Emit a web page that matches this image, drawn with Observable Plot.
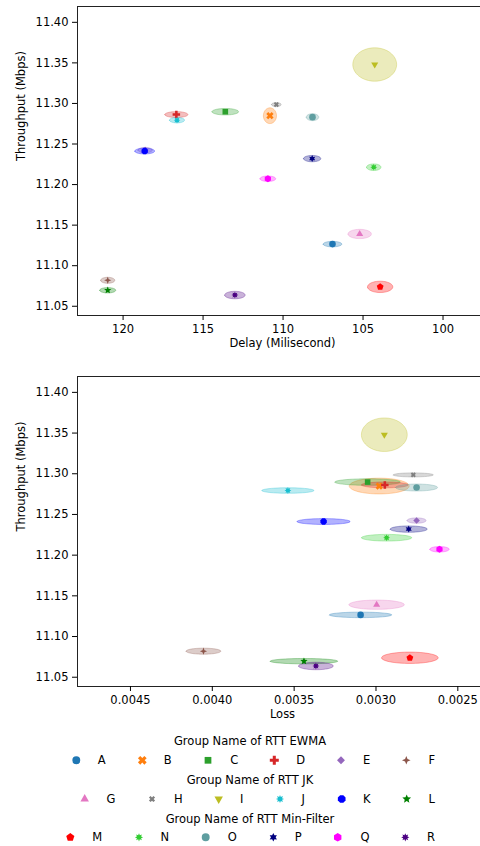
<!DOCTYPE html>
<html>
<head>
<meta charset="utf-8">
<script src="https://cdn.jsdelivr.net/npm/d3@7"></script>
<script src="https://cdn.jsdelivr.net/npm/@observablehq/plot@0.6"></script>
<style>
  html, body { margin: 0; padding: 0; background: #fff; overflow: hidden; }
  body { font-family: "DejaVu Sans", sans-serif; }
  #wrap { position: relative; width: 480px; height: 846px; overflow: hidden; background: #fff; }
  #wrap > div, #wrap > svg { position: absolute; left: 0; }
</style>
</head>
<body>
<div id="wrap"></div>
<script>
// ---------------- DATA ----------------
const groups = ["A","B","C","D","E","F","G","H","I","J","K","L","M","N","O","P","Q","R"];
const colors = ["#1f77b4","#ff7f0e","#2ca02c","#d62728","#9467bd","#8c564b",
                "#e377c2","#7f7f7f","#bcbd22","#17becf","#0000ff","#008000",
                "#ff0000","#32cd32","#5f9ea0","#000080","#ff00ff","#4b0082"];
const markers = ["circle","xfill","square","plusfill","diamond","star4",
                 "triUp","xsmall","triDown","star8","octagon","star5",
                 "pentagon","star8","circle","star6","hexagon","star8"];
const throughput = [11.1266, 11.2849, 11.2898, 11.2863, 11.2425, 11.0820,
                    11.1391, 11.2986, 11.3480, 11.2794, 11.2413, 11.0697,
                    11.0739, 11.2214, 11.2831, 11.2320, 11.2072, 11.0638];
const throughputSpread = [0.0034, 0.0097, 0.0040, 0.0036, 0.0033, 0.0037,
                          0.0057, 0.0025, 0.0206, 0.0034, 0.0036, 0.0033,
                          0.0070, 0.0041, 0.0043, 0.0039, 0.0034, 0.0046];
const delay = [106.91, 110.82, 113.61, 116.67, 118.62, 120.96,
               105.21, 110.42, 104.27, 116.63, 118.65, 120.96,
               103.93, 104.33, 108.16, 108.18, 110.95, 113.01];
const delaySpread = [0.58, 0.41, 0.83, 0.72, 0.45, 0.44,
                     0.73, 0.30, 1.37, 0.47, 0.62, 0.50,
                     0.79, 0.45, 0.39, 0.54, 0.49, 0.64];
const loss = [0.003094, 0.002980, 0.003051, 0.002946, 0.002752, 0.004054,
              0.002996, 0.002772, 0.002949, 0.003538, 0.003320, 0.003440,
              0.002793, 0.002935, 0.002752, 0.002800, 0.002612, 0.003367];
const lossSpread = [0.000190, 0.000183, 0.000200, 0.000142, 0.000058, 0.000106,
                    0.000169, 0.000122, 0.000140, 0.000159, 0.000162, 0.000206,
                    0.000173, 0.000153, 0.000128, 0.000113, 0.000059, 0.000106];
const throughputTicks = [11.05, 11.10, 11.15, 11.20, 11.25, 11.30, 11.35, 11.40];
const delayTicks = [120, 115, 110, 105, 100];
const lossTicks = [0.0045, 0.0040, 0.0035, 0.0030, 0.0025];
const yLabel = "Throughput (Mbps)";
const delayLabel = "Delay (Milisecond)";
const lossLabel = "Loss";
const legendTitles = ["Group Name of RTT EWMA", "Group Name of RTT JK", "Group Name of RTT Min-Filter"];

// ---------------- SYMBOLS ----------------
function poly(pts) {
  return {draw(c, size) {
    const r = Math.sqrt(size / Math.PI);
    pts.forEach(([x, y], i) => i ? c.lineTo(x * r, y * r) : c.moveTo(x * r, y * r));
    c.closePath();
  }};
}
function star(n, inner, rot) {
  const pts = [];
  for (let i = 0; i < 2 * n; i++) {
    const a = rot + i * Math.PI / n, rr = i % 2 ? inner : 1;
    pts.push([rr * Math.cos(a), rr * Math.sin(a)]);
  }
  return poly(pts);
}
function regular(n, rot, k = 1) {
  const pts = [];
  for (let i = 0; i < n; i++) {
    const a = rot + i * 2 * Math.PI / n;
    pts.push([k * Math.cos(a), k * Math.sin(a)]);
  }
  return poly(pts);
}
function plusPts(w, rot) {
  const base = [[w,-1],[w,-w],[1,-w],[1,w],[w,w],[w,1],[-w,1],[-w,w],[-1,w],[-1,-w],[-w,-w],[-w,-1]];
  const c = Math.cos(rot), s = Math.sin(rot);
  return base.map(([x, y]) => [x * c - y * s, x * s + y * c]);
}
const symbolDefs = {
  circle: {draw(c, size) { const r = Math.sqrt(size / Math.PI); c.moveTo(r, 0); c.arc(0, 0, r, 0, 2 * Math.PI); }},
  xfill: poly(plusPts(0.36, Math.PI / 4).map(([x, y]) => [x * 1.15, y * 1.15])),
  xsmall: poly(plusPts(0.36, Math.PI / 4).map(([x, y]) => [x * 0.95, y * 0.95])),
  square: poly([[-0.85,-0.85],[0.85,-0.85],[0.85,0.85],[-0.85,0.85]]),
  plusfill: poly(plusPts(0.34, 0).map(([x, y]) => [x * 1.1, y * 1.1])),
  diamond: regular(4, -Math.PI / 2, 1.1),
  star4: star(4, 0.4, -Math.PI / 2),
  triUp: regular(3, -Math.PI / 2, 1.2),
  triDown: regular(3, Math.PI / 2, 1.2),
  star8: star(8, 0.55, -Math.PI / 2),
  octagon: regular(8, Math.PI / 8, 1.02),
  star5: star(5, 0.45, -Math.PI / 2),
  pentagon: regular(5, -Math.PI / 2, 1.05),
  star6: star(6, 0.55, -Math.PI / 2),
  hexagon: regular(6, -Math.PI / 2, 1.05)
};
const plotR = {circle: 3.3, xfill: 3.3, xsmall: 2.8, square: 3.3, plusfill: 3.4, diamond: 3.0, star4: 3.6,
  triUp: 3.4, triDown: 3.4, star8: 3.4, octagon: 3.4, star5: 3.8, pentagon: 3.4, star6: 3.5, hexagon: 3.4};

// ---------------- PLOTS ----------------
const yDomain = [11.0386, 11.4195];

function makePlot(xVals, xSpread, xDomain, xTicks, xFmt, xLabel, height, mt, mb) {
  const ellipseMarks = groups.map((g, i) => {
    const pts = d3.range(64).map(k => {
      const t = 2 * Math.PI * k / 64;
      return {x: xVals[i] + xSpread[i] * Math.cos(t), y: throughput[i] + throughputSpread[i] * Math.sin(t)};
    });
    return Plot.line(pts, {x: "x", y: "y", curve: "linear-closed", fill: colors[i], fillOpacity: 0.3,
                           stroke: colors[i], strokeOpacity: 0.3, strokeWidth: 1});
  });
  const dotMarks = groups.map((g, i) =>
    Plot.dot([{x: xVals[i], y: throughput[i]}], {x: "x", y: "y", symbol: symbolDefs[markers[i]],
      r: plotR[markers[i]], fill: colors[i], stroke: "none"}));
  const svg = Plot.plot({
    width: 487, height, marginTop: mt, marginBottom: mb, marginLeft: 77, marginRight: 0,
    style: {fontFamily: "DejaVu Sans, sans-serif", fontSize: "11.5px", color: "#000", background: "transparent"},
    x: {domain: xDomain, label: null},
    y: {domain: yDomain, label: null},
    marks: [
      ...ellipseMarks,
      ...dotMarks,
      Plot.frame({stroke: "#222", strokeWidth: 1}),
      Plot.axisX({ticks: xTicks, tickFormat: xFmt, tickSize: 5, tickPadding: 4, label: null}),
      Plot.axisY({ticks: throughputTicks, tickFormat: d3.format(".2f"), tickSize: 5, tickPadding: 4, label: null}),
      Plot.text([xLabel], {frameAnchor: "bottom", dy: 31, text: d => d}),
      Plot.text([yLabel], {frameAnchor: "left", dx: -56, rotate: -90, text: d => d})
    ]
  });
  svg.style.maxWidth = "none";
  svg.style.width = "487px";
  svg.style.height = height + "px";
  return svg;
}

const wrap = document.getElementById("wrap");
const top1 = makePlot(delay, delaySpread, [122.85, 97.22], delayTicks, d3.format("d"), delayLabel, 360, 6, 45);
top1.style.top = "0px";
wrap.appendChild(top1);
const bot = makePlot(loss, lossSpread, [0.0048236, 0.0023187], lossTicks, d3.format(".4f"), lossLabel, 370, 16, 44);
bot.style.top = "360px";
wrap.appendChild(bot);

// ---------------- LEGEND ----------------
const legendRows = [
  {titleY: 21, rowY: 40.3, mx: [76.3, 142.3, 208, 274.3, 341, 406.3], lx: [101.7, 167.7, 234.3, 300.7, 366.7, 431.7]},
  {titleY: 60, rowY: 79, mx: [84.7, 152, 218.7, 280, 341.7, 406.7], lx: [111, 178.3, 241.7, 303.3, 366.7, 431.7]},
  {titleY: 98.7, rowY: 117.3, mx: [70.3, 139, 205.7, 273.3, 337.7, 405.3], lx: [97.3, 164.7, 232.3, 298.3, 365, 431]}
];
const leg = d3.create("svg").attr("width", 480).attr("height", 126)
  .style("top", "720px").style("font-family", "DejaVu Sans, sans-serif").style("font-size", "11.5px");
legendRows.forEach((row, ri) => {
  leg.append("text").attr("x", 250).attr("y", row.titleY).attr("dy", "0.35em")
    .attr("text-anchor", "middle").attr("fill", "#000").text(legendTitles[ri]);
  for (let j = 0; j < 6; j++) {
    const i = ri * 6 + j;
    const rr = plotR[markers[i]] * 1.2;
    leg.append("path")
      .attr("transform", `translate(${row.mx[j]},${row.rowY})`)
      .attr("d", d3.symbol().type(symbolDefs[markers[i]]).size(rr * rr * Math.PI)())
      .attr("fill", colors[i]);
    leg.append("text").attr("x", row.lx[j]).attr("y", row.rowY).attr("dy", "0.35em")
      .attr("text-anchor", "middle").attr("fill", "#000").text(groups[i]);
  }
});
wrap.appendChild(leg.node());
</script>
</body>
</html>
